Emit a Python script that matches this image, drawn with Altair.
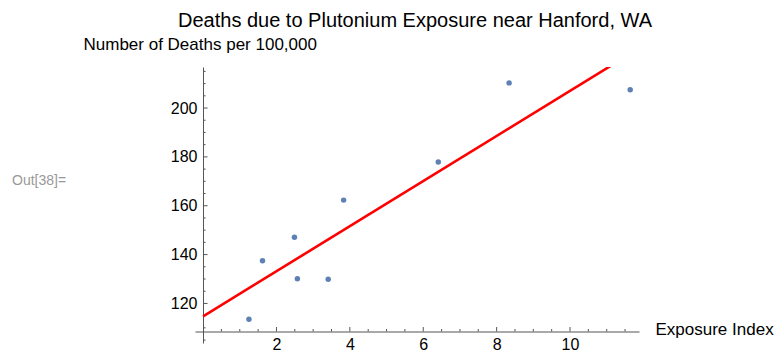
import altair as alt
import pandas as pd

# ---- data ----
exposure = [2.49, 2.57, 3.41, 1.25, 1.62, 3.83, 11.64, 6.41, 8.34]
mortality = [147.1, 130.1, 129.9, 113.5, 137.5, 162.3, 207.5, 177.9, 210.3]

x_major = [2, 4, 6, 8, 10]
x_minor = [0.5, 1, 1.5, 2.5, 3, 3.5, 4.5, 5, 5.5, 6.5, 7, 7.5, 8.5, 9, 9.5,
           10.5, 11, 11.5]
y_major = [120, 140, 160, 180, 200]
y_minor = [105, 110, 115, 125, 130, 135, 145, 150, 155, 165, 170, 175, 185,
           190, 195, 205, 210, 215]

x_range = [-0.22, 11.88]
y_range = [103.8, 216.8]
x_origin = 0
y_origin = 108.5

title_text = "Deaths due to Plutonium Exposure near Hanford, WA"
y_title = "Number of Deaths per 100,000"
x_title = "Exposure Index"
out_label = ["Out[38]="]

FONT = "Liberation Sans"
AXIS_COLOR = "#555555"

df = pd.DataFrame({"exposure": exposure, "mortality": mortality})

xs = alt.Scale(domain=x_range, nice=False, zero=False)
ys = alt.Scale(domain=y_range, nice=False, zero=False)

x_axis = alt.Axis(values=x_major, domain=True, domainColor=AXIS_COLOR, ticks=False,
                  tickSize=0, grid=False, labelFontSize=16, labelFont=FONT,
                  labelColor="black", labelPadding=5, offset=-11.5,
                  title=x_title, titleFont=FONT, titleFontSize=17,
                  titleFontWeight="normal", titleColor="black", titleAlign="left",
                  titleBaseline="alphabetic", titleX=460, titleY=3, titleAngle=0)
y_axis = alt.Axis(values=y_major, domain=True, domainColor=AXIS_COLOR, ticks=False,
                  tickSize=0, grid=False, labelFontSize=16, labelFont=FONT,
                  labelColor="black", labelPadding=6, offset=-8,
                  title=y_title, titleFont=FONT, titleFontSize=17,
                  titleFontWeight="normal", titleColor="black", titleAngle=0,
                  titleAlign="left", titleBaseline="alphabetic",
                  titleX=-120, titleY=-18)

points = alt.Chart(df).mark_circle(size=30, color="#5E81B5", opacity=1).encode(
    x=alt.X("exposure:Q", scale=xs, axis=x_axis),
    y=alt.Y("mortality:Q", scale=ys, axis=y_axis),
)

fit = alt.Chart(df).transform_regression(
    "exposure", "mortality", extent=[x_origin, x_range[1]]
).mark_line(color="#FF0000", strokeWidth=2.6, clip=True).encode(
    x=alt.X("exposure:Q", scale=xs),
    y=alt.Y("mortality:Q", scale=ys),
)

def yticks(vals, length):
    return alt.Chart(pd.DataFrame({"v": vals})).mark_rule(
        color=AXIS_COLOR, strokeWidth=1, x2Offset=length
    ).encode(
        y=alt.Y("v:Q", scale=ys),
        x=alt.datum(x_origin, scale=xs),
        x2=alt.datum(x_origin),
    )

def xticks(vals, length):
    return alt.Chart(pd.DataFrame({"v": vals})).mark_rule(
        color=AXIS_COLOR, strokeWidth=1, y2Offset=-length
    ).encode(
        x=alt.X("v:Q", scale=xs),
        y=alt.datum(y_origin, scale=ys),
        y2=alt.datum(y_origin),
    )

out_text = alt.Chart(pd.DataFrame({"t": out_label})).mark_text(
    align="left", baseline="alphabetic", font=FONT, fontSize=14, color="#999999"
).encode(x=alt.value(-183), y=alt.value(118), text="t:N")

chart = alt.layer(
    yticks(y_major, 4.5), yticks(y_minor, 2.5),
    xticks(x_major, 4.5), xticks(x_minor, 2.5),
    fit, points, out_text,
).properties(
    width=444, height=276,
    title=alt.Title(title_text, font=FONT, fontSize=20, fontWeight="normal",
                    color="black", anchor="middle", offset=10,
                    baseline="alphabetic", dx=-2, dy=22),
    padding={"left": 195, "top": 67, "right": 137, "bottom": 13},
    autosize=alt.AutoSizeParams(type="none"),
).configure(background="white").configure_view(stroke=None)

chart.save("out.html", embed_options={"renderer": "svg", "actions": False})
